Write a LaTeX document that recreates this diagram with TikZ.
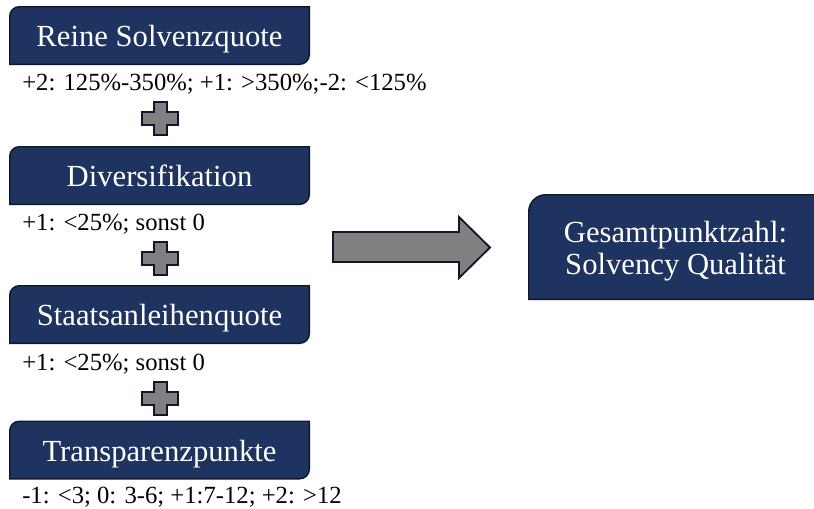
\documentclass[tikz,border=0pt]{standalone}
\usepackage{fontspec}
\setmainfont{Liberation Serif}
\usetikzlibrary{backgrounds}
\definecolor{navy}{RGB}{31,51,96}
\definecolor{navyrand}{RGB}{14,24,45}
\definecolor{grau}{RGB}{128,128,128}
\newcommand{\pluszeichen}[2]{\filldraw[pluss,shift={(#1,#2)}] (-18,6.5) -- (-6.5,6.5) -- (-6.5,16.5) -- (6.5,16.5) -- (6.5,6.5) -- (18,6.5) -- (18,-6.5) -- (6.5,-6.5) -- (6.5,-16.5) -- (-6.5,-16.5) -- (-6.5,-6.5) -- (-18,-6.5) -- cycle;}
% optional: Verlaengerung nach rechts
\newcommand{\diagkasten}[3][0pt]{\filldraw[kastenform] (#2.south west) -- ([yshift=-#3]#2.north west) arc[start angle=180,end angle=90,radius=#3] -- ([xshift=#1]#2.north east) -- ([xshift=#1,yshift=#3]#2.south east) arc[start angle=0,end angle=-90,radius=#3] -- cycle;}

\begin{document}
\begin{tikzpicture}[x=0.75pt,y=0.75pt,
    kasten/.style={inner sep=0pt,text=white,font=\fontsize{23}{24}\selectfont,
      minimum width=224.25pt,minimum height=42.75pt,text height=17pt,text depth=0pt},
    regel/.style={inner sep=0pt,anchor=base west,font=\fontsize{18.5}{20}\selectfont},
    kastenform/.style={fill=navy,draw=navyrand,line width=1.1pt},
    pluss/.style={fill=grau,draw=navyrand,line width=1.5pt,line join=miter},
    pfeil/.style={fill=grau,draw=navyrand,line width=1.4pt}]
  \useasboundingbox (0,0) rectangle (814,-508);
  % linke Spalte
  \node[kasten] (solvenz) at (159.5,-35.5) {Reine Solvenzquote};
  \node[regel] (r1) at (22,-90) {+2: 125\%-350\%; +1: >350\%;-2: <125\%};
  \node[kasten] (divers) at (159.5,-175.5) {Diversifikation};
  \node[regel] (r2) at (22,-230) {+1: <25\%; sonst 0};
  \node[kasten] (staat) at (159.5,-314.5) {Staatsanleihenquote};
  \node[regel] (r3) at (22,-370) {+1: <25\%; sonst 0};
  \node[kasten] (transp) at (159.5,-450) {Transparenzpunkte};
  \node[regel] (r4) at (22,-503) {-1: <3; 0: 3-6; +1:7-12; +2: >12};
  % Ergebnis
  \node[kasten,minimum width=219.75pt,minimum height=78pt,align=center,
    font=\fontsize{23}{24}\selectfont,text height=40.5pt] (gesamt) at (675.5,-247)
    {Gesamtpunktzahl:\\Solvency Qualität};
  \begin{scope}[on background layer]
    \clip (0,0) rectangle (814,-508);
    \diagkasten{solvenz}{7.1pt}
    \diagkasten{divers}{7.1pt}
    \diagkasten{staat}{7.1pt}
    \diagkasten{transp}{7.1pt}
    \diagkasten[20pt]{gesamt}{12.8pt}
  \end{scope}
  \pluszeichen{160}{-118.5}
  \pluszeichen{160}{-258.5}
  \pluszeichen{160}{-398.5}
  \filldraw[pfeil] (333,-232) -- (459,-232) -- (459,-217) -- (490,-247.5) -- (459,-278) -- (459,-262) -- (333,-262) -- cycle;
\end{tikzpicture}
\end{document}
